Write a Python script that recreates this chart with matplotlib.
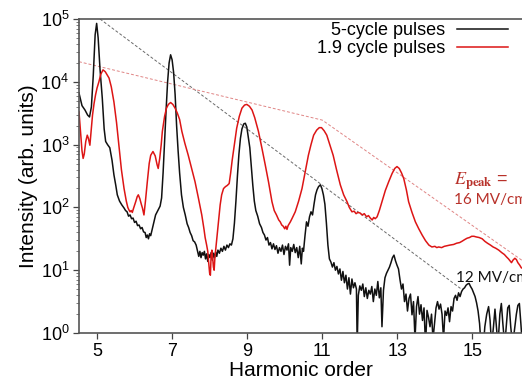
import matplotlib
matplotlib.use('Agg')
import matplotlib.pyplot as plt
import numpy as np

plt.rcParams['font.family'] = ['Liberation Sans', 'DejaVu Sans']
plt.rcParams['mathtext.fontset'] = 'stix'

# Harmonic spectra: (harmonic order, log10 intensity)
BLACK_X = [4.52, 4.60, 4.68, 4.75, 4.80, 4.85, 4.90, 4.95, 4.99, 5.03, 5.08, 5.14, 5.19, 5.23, 5.28,
           5.34, 5.40, 5.45, 5.50, 5.54, 5.60, 5.66, 5.72, 5.76, 5.80, 5.84, 5.88, 5.92, 5.96, 6.00,
           6.04, 6.08, 6.12, 6.16, 6.20, 6.24, 6.28, 6.31, 6.34, 6.37, 6.40, 6.43, 6.47, 6.52, 6.56,
           6.62, 6.68, 6.72, 6.76, 6.80, 6.84, 6.88, 6.92, 6.96, 7.00, 7.04, 7.08, 7.12, 7.16, 7.20,
           7.25, 7.30, 7.35, 7.40, 7.44, 7.48, 7.52, 7.56, 7.60, 7.64, 7.68, 7.71, 7.74, 7.77, 7.80,
           7.83, 7.86, 7.89, 7.92, 7.95, 7.98, 8.01, 8.04, 8.07, 8.10, 8.13, 8.16, 8.19, 8.22, 8.26,
           8.30, 8.34, 8.38, 8.42, 8.46, 8.50, 8.54, 8.58, 8.62, 8.66, 8.70, 8.74, 8.78, 8.82, 8.86,
           8.91, 8.95, 8.99, 9.03, 9.07, 9.11, 9.15, 9.19, 9.23, 9.28, 9.33, 9.38, 9.42, 9.46, 9.50,
           9.54, 9.58, 9.62, 9.66, 9.70, 9.74, 9.78, 9.82, 9.86, 9.90, 9.94, 9.98, 10.02, 10.06, 10.10,
           10.13, 10.16, 10.20, 10.24, 10.28, 10.32, 10.36, 10.40, 10.44, 10.47, 10.50, 10.54, 10.58,
           10.62, 10.66, 10.70, 10.74, 10.78, 10.82, 10.86, 10.90, 10.95, 10.99, 11.03, 11.07, 11.11,
           11.15, 11.19, 11.23, 11.27, 11.31, 11.35, 11.39, 11.43, 11.47, 11.51, 11.55, 11.59, 11.63,
           11.67, 11.71, 11.75, 11.79, 11.83, 11.87, 11.91, 11.93, 11.96, 12.00, 12.04, 12.08, 12.12,
           12.16, 12.20, 12.24, 12.28, 12.32, 12.36, 12.40, 12.44, 12.48, 12.52, 12.56, 12.59, 12.63,
           12.67, 12.71, 12.75, 12.79, 12.83, 12.87, 12.91, 12.95, 12.99, 13.03, 13.07, 13.11, 13.15,
           13.19, 13.23, 13.27, 13.31, 13.35, 13.39, 13.43, 13.47, 13.51, 13.55, 13.59, 13.63, 13.67,
           13.71, 13.75, 13.79, 13.83, 13.87, 13.91, 13.95, 13.99, 14.03, 14.07, 14.11, 14.15, 14.19,
           14.23, 14.27, 14.31, 14.35, 14.39, 14.43, 14.47, 14.51, 14.55, 14.59, 14.63, 14.67, 14.71,
           14.75, 14.79, 14.83, 14.87, 14.91, 14.95, 14.99, 15.03, 15.07, 15.11, 15.15, 15.19, 15.23,
           15.28, 15.33, 15.38, 15.43, 15.47, 15.51, 15.56, 15.60, 15.64, 15.68, 15.73, 15.77, 15.81,
           15.86, 15.90, 15.94, 15.98, 16.02, 16.07, 16.12, 16.17, 16.21, 16.25, 16.29, 16.33, 16.38]
BLACK_LOG = [3.82, 3.62, 3.55, 3.47, 3.44, 3.60, 4.10, 4.75, 4.93, 4.70, 4.20, 3.74, 3.25, 3.05, 3.00,
             2.95, 2.75, 2.52, 2.35, 2.20, 2.10, 2.04, 1.99, 1.95, 1.93, 1.86, 1.88, 1.82, 1.83, 1.76,
             1.78, 1.71, 1.72, 1.66, 1.68, 1.61, 1.60, 1.52, 1.56, 1.50, 1.58, 1.55, 1.65, 1.78, 1.88,
             1.95, 2.02, 2.15, 2.55, 3.05, 3.55, 4.00, 4.30, 4.43, 4.35, 4.15, 3.80, 3.30, 2.90, 2.55,
             2.20, 2.00, 1.88, 1.74, 1.68, 1.60, 1.55, 1.47, 1.45, 1.40, 1.30, 1.22, 1.30, 1.20, 1.28,
             1.24, 1.30, 1.18, 1.26, 1.14, 1.25, 1.20, 1.28, 1.16, 1.27, 1.20, 1.29, 1.22, 1.32, 1.27,
             1.35, 1.30, 1.38, 1.32, 1.40, 1.36, 1.42, 1.40, 1.50, 1.75, 2.10, 2.50, 2.85, 3.10, 3.25,
             3.33, 3.34, 3.28, 3.12, 2.95, 2.65, 2.35, 2.10, 1.95, 1.86, 1.74, 1.68, 1.60, 1.56, 1.48,
             1.52, 1.40, 1.44, 1.34, 1.42, 1.33, 1.39, 1.27, 1.36, 1.30, 1.40, 1.25, 1.38, 1.32, 1.42,
             1.08, 1.36, 1.30, 1.41, 1.28, 1.36, 1.20, 1.38, 1.10, 1.35, 1.30, 1.55, 1.77,
             1.70, 1.85, 1.93, 1.88, 2.05, 2.20, 2.28, 2.33, 2.36, 2.30, 2.20, 2.05, 1.75,
             1.40, 1.18, 1.13, 1.05, 1.12, 1.00, 1.06, 0.94, 1.02, 0.84, 0.98, 0.80, 0.92,
             0.70, 0.88, 0.62, 0.86, 0.72, 0.80, 0.70, -0.20, 0.60, 0.75, 0.68, 0.78, 0.58,
             0.72, 0.55, 0.68, 0.62, 0.74, 0.50, 0.70, 0.60, 0.82, 0.56, 0.72, 0.10, 0.68,
             0.88, 0.95, 1.00, 1.05, 1.12, 1.20, 1.24, 1.15, 1.08, 1.02, 0.85, 0.70, 0.78,
             0.50, 0.62, 0.35, 0.55, 0.62, 0.29, 0.50, -0.10, 0.42, 0.58, 0.30, 0.45, 0.20,
             0.40, -0.20, 0.36, 0.25, 0.10, 0.30, -0.10, 0.15, 0.40, 0.50, 0.38, 0.46, 0.30,
             -0.10, 0.35, 0.28, 0.40, 0.18, 0.42, 0.35, 0.55, 0.60, 0.52, 0.64, 0.58, 0.66,
             0.70, 0.72, 0.76, 0.78, 0.79, 0.74, 0.70, 0.64, 0.58, 0.48, 0.35, 0.15, -0.20,
             -0.30, 0.10, 0.30, 0.42, 0.20, -0.20, 0.10, 0.38, 0.08, -0.20, 0.30, 0.47, 0.15,
             -0.20, 0.10, 0.40, 0.44, 0.10, -0.20, 0.05, 0.30, 0.44, 0.47, 0.15, -0.20, 0.20]

RED_X = [4.52, 4.56, 4.60, 4.63, 4.66, 4.70, 4.74, 4.77, 4.81, 4.84, 4.88, 4.92, 4.96, 5.00, 5.05,
         5.10, 5.16, 5.22, 5.28, 5.32, 5.38, 5.45, 5.52, 5.59, 5.65, 5.72, 5.78, 5.82, 5.85, 5.88,
         5.91, 5.94, 5.97, 6.03, 6.07, 6.10, 6.14, 6.18, 6.21, 6.25, 6.29, 6.34, 6.39, 6.43, 6.49,
         6.55, 6.60, 6.63, 6.67, 6.71, 6.74, 6.80, 6.85, 6.90, 6.96, 7.02, 7.08, 7.14, 7.20, 7.26,
         7.34, 7.43, 7.52, 7.61, 7.70, 7.79, 7.85, 7.88, 7.92, 7.95, 7.97, 8.00, 8.02, 8.04, 8.06,
         8.08, 8.10, 8.12, 8.14, 8.17, 8.20, 8.24, 8.28, 8.32, 8.37, 8.42, 8.47, 8.52, 8.56, 8.60,
         8.66, 8.72, 8.79, 8.86, 8.93, 8.99, 9.06, 9.13, 9.20, 9.30, 9.39, 9.48, 9.57, 9.66, 9.72,
         9.78, 9.84, 9.88, 9.92, 9.96, 10.00, 10.03, 10.06, 10.09, 10.12, 10.15, 10.20, 10.28, 10.37,
         10.46, 10.54, 10.63, 10.70, 10.77, 10.85, 10.92, 10.98, 11.05, 11.12, 11.20, 11.29, 11.38,
         11.48, 11.57, 11.66, 11.72, 11.79, 11.85, 11.90, 11.95, 12.01, 12.06, 12.12, 12.18, 12.23,
         12.28, 12.33, 12.37, 12.41, 12.46, 12.52, 12.59, 12.68, 12.77, 12.86, 12.93, 12.99, 13.05,
         13.11, 13.17, 13.24, 13.30, 13.39, 13.48, 13.57, 13.66, 13.75, 13.84, 13.92, 14.00, 14.05,
         14.10, 14.18, 14.25, 14.32, 14.40, 14.50, 14.58, 14.66, 14.72, 14.80, 14.86, 14.92, 14.98,
         15.04, 15.10, 15.18, 15.26, 15.33, 15.40, 15.48, 15.55, 15.62, 15.70, 15.78, 15.85, 15.91,
         15.96, 16.00, 16.04, 16.08, 16.13, 16.17, 16.21, 16.26, 16.30, 16.36]
RED_LOG = [3.52, 3.20, 2.90, 2.78, 2.85, 3.05, 3.15, 3.10, 2.99, 3.20, 3.47, 3.65, 3.79, 3.90, 4.00,
           4.12, 4.19, 4.16, 4.10, 4.06, 3.92, 3.68, 3.35, 2.94, 2.60, 2.30, 2.10, 2.00, 1.96, 1.93,
           1.95, 1.92, 1.98, 2.09, 2.17, 2.20, 2.14, 2.05, 1.99, 1.88, 2.10, 2.41, 2.70, 2.83, 2.89,
           2.82, 2.68, 2.62, 2.78, 3.00, 3.21, 3.45, 3.58, 3.64, 3.67, 3.64, 3.58, 3.50, 3.40, 3.21,
           3.02, 2.83, 2.62, 2.41, 2.15, 1.88, 1.65, 1.52, 1.40, 1.30, 1.15, 0.95, 0.92, 1.25, 1.32,
           1.20, 1.05, 1.00, 1.20, 1.38, 1.55, 1.80, 2.04, 2.20, 2.30, 2.33, 2.35, 2.38, 2.55, 2.75,
           3.00, 3.26, 3.45, 3.58, 3.63, 3.64, 3.61, 3.55, 3.43, 3.21, 2.95, 2.68, 2.40, 2.09, 1.95,
           1.88, 1.80, 1.77, 1.72, 1.70, 1.66, 1.70, 1.65, 1.71, 1.74, 1.77, 1.83, 1.93, 2.10,
           2.30, 2.55, 2.83, 3.00, 3.15, 3.23, 3.27, 3.27, 3.22, 3.15, 3.00, 2.83, 2.60,
           2.36, 2.20, 2.09, 2.00, 1.93, 1.94, 1.90, 1.92, 1.91, 1.88, 1.90, 1.85, 1.87,
           1.83, 1.80, 1.84, 1.82, 1.85, 1.95, 2.09, 2.27, 2.41, 2.54, 2.62, 2.65, 2.62,
           2.55, 2.46, 2.28, 2.09, 1.92, 1.77, 1.66, 1.56, 1.47, 1.40, 1.37, 1.38, 1.36,
           1.37, 1.36, 1.38, 1.39, 1.40, 1.41, 1.43, 1.44, 1.46, 1.49, 1.51, 1.52, 1.54,
           1.54, 1.53, 1.52, 1.50, 1.46, 1.43, 1.40, 1.37, 1.35, 1.32, 1.28, 1.25, 1.21,
           1.18, 1.15, 1.12, 1.16, 1.19, 1.17, 1.12, 1.08, 1.04, 1.02]

# Dashed envelopes: (harmonic order, log10 intensity)
BLACK_GUIDE_X = [5.08, 14.68]
BLACK_GUIDE_LOG = [5.0, 0.71]
RED_GUIDE_X = [4.52, 11.0, 16.36]
RED_GUIDE_LOG = [4.32, 3.39, 1.14]

X_TICKS = [5, 7, 9, 11, 13, 15]
LABELS = ['5-cycle pulses', '1.9 cycle pulses']

BLACK = '#111111'
RED = '#dd1515'
TEXT_RED = '#b8312a'


def draw_spectra(ax):
    """
    Draw both measured spectra and the dashed field-strength envelopes.
    :param ax: Axes to draw in.
    :return: The two spectrum lines, for the legend.
    """
    ax.plot(BLACK_GUIDE_X, np.power(10.0, BLACK_GUIDE_LOG), ls=(0, (3, 2)), lw=0.7, color='#6a6a6a')
    ax.plot(RED_GUIDE_X, np.power(10.0, RED_GUIDE_LOG), ls=(0, (3, 2)), lw=0.7, color='#e08585')
    black, = ax.plot(BLACK_X, np.power(10.0, BLACK_LOG), color=BLACK, lw=1.1)
    red, = ax.plot(RED_X, np.power(10.0, RED_LOG), color=RED, lw=1.1)
    return black, red


def style_axes(ax):
    """
    Log scale, limits, ticks and spines like the original figure.
    :param ax: Axes to style.
    :return: Nothing.
    """
    ax.set_yscale('log')
    ax.set_xlim(4.52, 16.36)
    ax.set_ylim(1, 1e5)
    ax.set_xticks(X_TICKS)
    ax.tick_params(axis='both', which='major', direction='out', length=4, width=0.9,
                   labelsize=13, color='#444444', pad=3)
    ax.tick_params(axis='y', which='minor', direction='out', length=2, width=0.6, color='#666666')
    for side in ['left', 'bottom', 'top']:
        ax.spines[side].set_color('#555555')
        ax.spines[side].set_linewidth(1.2)
    ax.spines['right'].set_visible(False)
    ax.set_xlabel('Harmonic order', fontsize=15, labelpad=1)
    ax.set_ylabel('Intensity (arb. units)', fontsize=15, labelpad=2)


def main():
    """
    Build the figure and save it.
    :return: Nothing.
    """
    fig = plt.figure(figsize=(5.22, 3.83), dpi=100)
    ax = fig.add_axes([79 / 522, 1 - 333 / 383, 444.5 / 522, 314 / 383])
    black, red = draw_spectra(ax)
    style_axes(ax)

    fig.legend([black, red], LABELS, loc='upper right', bbox_to_anchor=(508 / 522, 1 - 22 / 383),
               frameon=False, markerfirst=False, fontsize=13, handlelength=2.8, handletextpad=0.7,
               labelspacing=0.05, borderpad=0, borderaxespad=0)

    # the field-strength labels run off the right edge, as in the original
    ax.text(14.52, 10 ** 2.41, r'$E_{\mathbf{peak}}$ =', color=TEXT_RED, fontsize=13,
            va='center', ha='left')
    ax.text(14.52, 10 ** 2.12, '16 MV/cm', color=TEXT_RED, fontsize=11, family='Lato',
            va='center', ha='left', clip_on=False)
    ax.text(14.55, 10 ** 0.87, '12 MV/cm', color=BLACK, fontsize=11, family='Lato',
            va='center', ha='left', clip_on=False)

    fig.savefig('out.png', dpi=100, facecolor='white')


if __name__ == '__main__':
    main()
